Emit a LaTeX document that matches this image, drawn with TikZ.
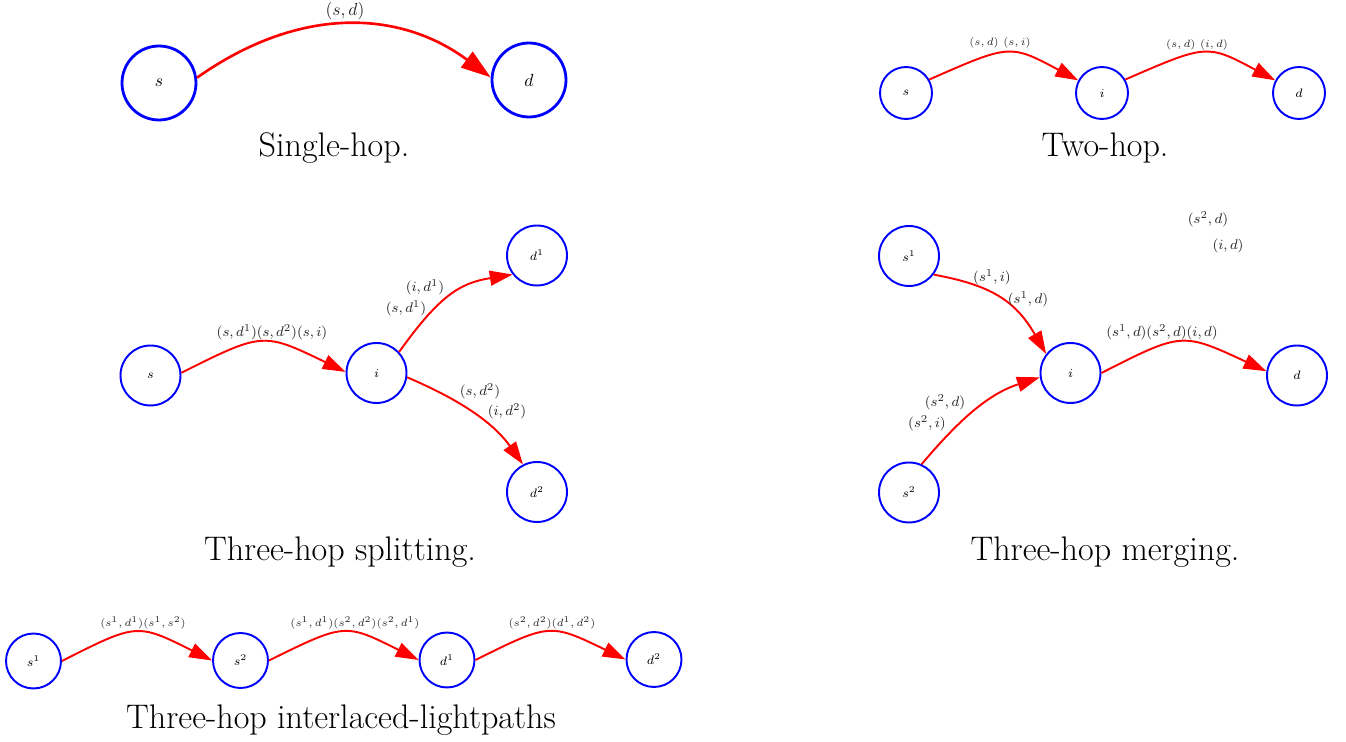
\documentclass[tikz,border=0pt]{standalone}
\usepackage{amsmath, tikz, xcolor}
\usetikzlibrary{arrows.meta, shapes.geometric}
\tikzset{vtx/.style = {circle, draw = blue, line width = 1.1pt, inner sep = 0pt, minimum size = #1, font = \scriptsize}}
\tikzset{hop/.style = {draw = red, line width = 1.1pt, -{Triangle[length = 13pt, width = 8.5pt]}}}
\tikzset{lbl/.style = {font = \footnotesize, text = black!85, inner sep = 1pt}}
\tikzset{lbls/.style = {lbl, font = \fontsize{6.3}{7}\selectfont}}
\tikzset{subcap/.style = {font = \fontsize{19.4}{22}\selectfont}}

\begin{document}
\begin{tikzpicture}[x = 0.02cm, y = -0.02cm]
\useasboundingbox (0,0) rectangle (1346,742);
\node[vtx = 1.48cm, line width = 1.6pt, font = \normalsize] (sA) at (159,83) {$s$};
\node[vtx = 1.48cm, line width = 1.6pt, font = \normalsize] (dA) at (529,80) {$d$};
\draw[hop, line width = 1.5pt, -{Triangle[length = 17pt, width = 11pt]}] (sA.8) .. controls (300,5) and (400,10) .. (dA.176);
\node[lbl, font = \normalsize] (lA) at (345,11) {$(s,d)$};
\node[subcap] (capA) at (334,148) {Single-hop.};

\node[vtx = 1.04cm] (sB) at (906,93) {$s$};
\node[vtx = 1.04cm] (iB) at (1102,93) {$i$};
\node[vtx = 1.04cm] (dB) at (1299,93) {$d$};
\draw[hop] (sB.30) .. controls (1010,44) .. (iB.152);
\draw[hop] (iB.30) .. controls (1207,44) .. (dB.152);
\node[lbls] (lBa) at (1000,43) {$(s,d)$ $(s,i)$};
\node[lbls] (lBb) at (1197,45) {$(s,d)$ $(i,d)$};
\node[subcap] (capB) at (1105,148) {Two-hop.};

\node[vtx = 1.2cm] (sC) at (150.5,375.5) {$s$};
\node[vtx = 1.2cm] (iC) at (376.5,373) {$i$};
\node[vtx = 1.2cm] (dCa) at (537,255.5) {$d^1$};
\node[vtx = 1.2cm] (dCb) at (537,492) {$d^2$};
\draw[hop] (sC.5) .. controls (263,332) .. (iC.178);
\draw[hop] (iC.43) .. controls (440,295) and (460,283) .. (dCa.218);
\draw[hop] (iC.-8) .. controls (465,402) and (495,425) .. (dCb.117);
\node[lbl] (lCa) at (272,332) {$(s,d^1)(s,d^2)(s,i)$};
\node[lbl] (lCb) at (425,287) {$(i,d^1)$};
\node[lbl] (lCc) at (406,308) {$(s,d^1)$};
\node[lbl] (lCd) at (480,391) {$(s,d^2)$};
\node[lbl] (lCe) at (507,411) {$(i,d^2)$};
\node[subcap] (capC) at (340,552) {Three-hop splitting.};

\node[vtx = 1.2cm] (sDa) at (909,256) {$s^1$};
\node[vtx = 1.2cm] (sDb) at (909,492.5) {$s^2$};
\node[vtx = 1.2cm] (iD) at (1070.5,373) {$i$};
\node[vtx = 1.2cm] (dD) at (1297,375.5) {$d$};
\draw[hop] (sDa.-37) .. controls (990,285) and (1015,300) .. (iD.142);
\draw[hop] (sDb.66) .. controls (955,425) and (985,395) .. (iD.188);
\draw[hop] (iD.east) .. controls (1182,332) .. (dD.172);
\node[lbl] (lDa) at (992,277) {$(s^1,i)$};
\node[lbl] (lDb) at (1028,299) {$(s^1,d)$};
\node[lbl] (lDc) at (945,402) {$(s^2,d)$};
\node[lbl] (lDd) at (927,423) {$(s^2,i)$};
\node[lbl] (lDe) at (1162,332) {$(s^1,d)(s^2,d)(i,d)$};
\node[lbl] (lDf) at (1208,219) {$(s^2,d)$};
\node[lbl] (lDg) at (1228,246) {$(i,d)$};
\node[subcap] (capD) at (1105,552) {Three-hop merging.};

\node[vtx = 1.1cm] (sEa) at (33.5,661) {$s^1$};
\node[vtx = 1.1cm] (sEb) at (240.5,660.5) {$s^2$};
\node[vtx = 1.1cm] (dEa) at (447,660) {$d^1$};
\node[vtx = 1.1cm] (dEb) at (654,659.5) {$d^2$};
\draw[hop] (sEa.east) .. controls (137,623) .. (sEb.west);
\draw[hop] (sEb.east) .. controls (345,623) .. (dEa.west);
\draw[hop] (dEa.east) .. controls (550,623) .. (dEb.west);
\node[lbls] (lEa) at (143,623) {$(s^1,d^1)(s^1,s^2)$};
\node[lbls] (lEb) at (355,623) {$(s^1,d^1)(s^2,d^2)(s^2,d^1)$};
\node[lbls] (lEc) at (552,623) {$(s^2,d^2)(d^1,d^2)$};
\node[subcap] (capE) at (341,720) {Three-hop interlaced-lightpaths};
\end{tikzpicture}
\end{document}
